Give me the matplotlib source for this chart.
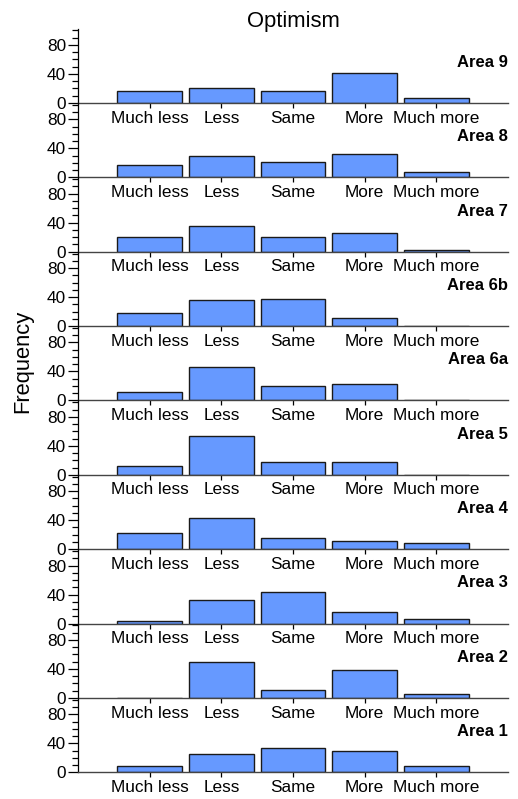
import matplotlib
matplotlib.use("Agg")
import matplotlib.pyplot as plt
from matplotlib.ticker import MultipleLocator

plt.rcParams['font.family'] = ['Liberation Sans', 'DejaVu Sans']

categories = ["Much less", "Less", "Same", "More", "Much more"]

# frequency of answers per area, top panel first
area_names = ["Area 9", "Area 8", "Area 7", "Area 6b", "Area 6a",
              "Area 5", "Area 4", "Area 3", "Area 2", "Area 1"]
area_9 = [17, 20, 17, 41, 7]
area_8 = [17, 29, 21, 32, 7]
area_7 = [20, 36, 20, 26, 2]
area_6b = [18, 36, 37, 11, 0]
area_6a = [11, 46, 20, 23, 0]
area_5 = [12, 54, 18, 18, 0]
area_4 = [23, 43, 15, 11, 8]
area_3 = [3, 33, 43, 16, 6]
area_2 = [0, 49, 11, 38, 5]
area_1 = [9, 25, 33, 29, 9]
area_values = [area_9, area_8, area_7, area_6b, area_6a,
               area_5, area_4, area_3, area_2, area_1]

W, H = 518, 799
fig = plt.figure(figsize=(W / 100, H / 100), dpi=100)

left = 78 / W
width = 430 / W
panel_h = 74.37 / H
bottom0 = 1 - 772.3 / H
n = len(area_names)
x = list(range(len(categories)))

for i, (name, vals) in enumerate(zip(area_names, area_values)):
    row = n - 1 - i
    ax = fig.add_axes([left, bottom0 + row * panel_h, width, panel_h])
    ax.patch.set_visible(False)
    ax.bar(x, vals, width=0.9, color="#6699ff", edgecolor="#1a1a1a", linewidth=1.0)
    ax.set_xlim(-1.0, 5.0)
    ax.set_ylim(0, 102.5)
    ax.set_xticks(x)
    ax.set_xticklabels(categories, fontsize=12.4)
    ax.yaxis.set_major_locator(MultipleLocator(40))
    ax.yaxis.set_minor_locator(MultipleLocator(10))
    ax.tick_params(axis='y', which='major', length=7.5, width=0.9, pad=1, labelsize=12.4)
    ax.tick_params(axis='y', which='minor', length=4.3, width=0.9)
    ax.tick_params(axis='x', which='major', length=3.5, width=0.9, pad=2.0)
    for side in ("top", "right"):
        ax.spines[side].set_visible(False)
    ax.spines["left"].set_linewidth(0.9)
    ax.spines["bottom"].set_linewidth(1.0)
    ax.spines["bottom"].set_color("#444444")
    ax.text(1.0, 56, name, transform=ax.get_yaxis_transform(), ha="right",
            va="center", fontsize=12, fontweight="bold")

fig.text((78 + 430 / 2) / W, 1 - 26.7 / H, "Optimism", ha="center",
         va="baseline", fontsize=15.8)
fig.text(23 / W, 1 - 361 / H, "Frequency", ha="center", va="center",
         rotation=90, fontsize=15.8)

fig.savefig("out.png", dpi=100)
